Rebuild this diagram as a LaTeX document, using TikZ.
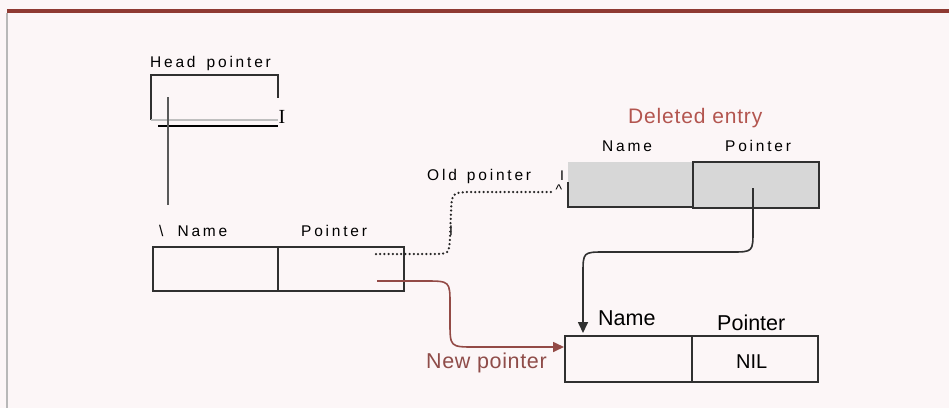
\documentclass[tikz,border=0pt]{standalone}
\usepackage{fontspec}
\setmainfont{Liberation Sans}
\newfontfamily\spaced[LetterSpace=18]{Liberation Sans}
\newfontfamily\serifI{Liberation Serif}
\usetikzlibrary{arrows.meta}
\definecolor{bgpink}{HTML}{FCF6F7}
\definecolor{topred}{HTML}{8F3A33}
\definecolor{txtred}{HTML}{B3554F}
\definecolor{newred}{HTML}{8F4C49}
\definecolor{linered}{HTML}{934A46}
\definecolor{boxline}{HTML}{303030}
\definecolor{cellgray}{HTML}{D7D7D7}
\tikzset{
  cell/.style={draw=boxline, line width=1.8pt, anchor=north west, inner sep=0pt},
  smalllbl/.style={font=\spaced\fontsize{15.5}{17}\selectfont, inner sep=0pt, anchor=base west, text=black},
  biglbl/.style={font=\fontsize{21.5}{24}\selectfont, inner sep=0pt, anchor=base west, text=black},
  redlbl/.style={font=\fontsize{21}{24}\selectfont\addfontfeature{LetterSpace=4}, inner sep=0pt, anchor=base west, text=txtred},
  artifact/.style={font=\fontsize{14}{15}\selectfont, inner sep=0pt, anchor=base},
  dottedline/.style={line width=2.5pt, line cap=round, dash pattern=on 0pt off 4.2pt, draw=black!85},
  blackptr/.style={line width=1.6pt, draw=boxline, -{Triangle[length=11pt,width=10pt]}},
  redptr/.style={line width=1.6pt, draw=linered, -{Triangle[length=11pt,width=10pt]}}
}
\begin{document}
\begin{tikzpicture}[x=1pt,y=-1pt]
  % background and frame
  \fill[bgpink] (0,0) rectangle (949,408);
  \useasboundingbox (0,0) rectangle (949,408);
  \fill[topred] (7,9) rectangle (949,13);
  \draw[line width=1.5pt, draw=black!28] (7,13) -- (7,408);

  % head pointer
  \node[smalllbl] (headlbl) at (150,67) {Head\hspace{4pt} pointer};
  \coordinate (hbl) at (151,120);
  \coordinate (htl) at (151,75);
  \coordinate (htr) at (278,75);
  \coordinate (hr) at (278,98);
  \draw[line width=1.8pt, draw=boxline] (hbl) -- (htl) -- (htr) -- (hr);
  \draw[line width=1.2pt, draw=black!25] (151,120) -- (278,120);
  \coordinate (hb1) at (158,126);
  \coordinate (hb2) at (278,126);
  \draw[line width=2.2pt, draw=black] (hb1) -- (hb2);
  \node[font=\serifI\fontsize{20}{21}\selectfont, inner sep=0pt, anchor=base] (hI) at (282,123) {I};
  \coordinate (hv1) at (168,97);
  \coordinate (hv2) at (168,205);
  \draw[line width=1.5pt, draw=black!65] (hv1) -- (hv2);

  % first entry
  \node[smalllbl] (n1lbl) at (159,236) {\textbackslash\hspace{7pt} Name};
  \node[smalllbl] (p1lbl) at (301,236) {Pointer};
  \node[cell, minimum width=125pt, minimum height=44pt] (n1) at (152,246) {};
  \node[cell, minimum width=126pt, minimum height=44pt] (p1) at (277,246) {};

  % deleted entry
  \node[redlbl] (dellbl) at (628,123) {Deleted entry};
  \node[smalllbl] (n2lbl) at (602,151) {Name};
  \node[smalllbl] (p2lbl) at (725,151) {Pointer};
  \fill[cellgray] (568,162) rectangle (692,207);
  \node[cell, fill=cellgray, minimum width=126pt, minimum height=46pt] (p2) at (692,161) {};
  \draw[line width=1.8pt, draw=boxline] (568,182) -- (568,207) -- (692,207);
  \coordinate (n2) at (568,185);
  \node[smalllbl] (oldlbl) at (427,180) {Old\hspace{3pt} pointer};
  \node[artifact] (oI) at (562,180) {I};
  \node[artifact] (oC) at (559,194) {\textasciicircum};
  \node[artifact] (jI) at (451,235) {I};

  % new (last) entry
  \node[biglbl] (n3lbl) at (598,325) {Name};
  \node[biglbl] (p3lbl) at (717,330) {Pointer};
  \node[cell, minimum width=127pt, minimum height=46pt] (n3) at (564,335) {};
  \node[cell, minimum width=126pt, minimum height=46pt] (p3) at (691,335) {};
  \node[biglbl, font=\fontsize{20}{24}\selectfont] (nil) at (736,368) {NIL};
  \node[redlbl, text=newred, font=\fontsize{21.5}{24}\selectfont\addfontfeature{LetterSpace=3}] (newlbl) at (426,368) {New pointer};

  % old pointer (dotted)
  \coordinate (os) at (376,254);
  \coordinate (oe) at (553,192);
  \draw[dottedline] (os) -- (432,254) .. controls (449,254) .. (450,238)
        -- (451,212) .. controls (452,193) .. (468,192) -- (oe);

  % pointer of deleted entry
  \coordinate (ds) at (753,188);
  \coordinate (de) at (583,333);
  \draw[blackptr] (ds) -- (753,230) .. controls (753,252) .. (731,252)
        -- (605,252) .. controls (583,252) .. (583,274) -- (de);

  % new pointer
  \coordinate (ns) at (377,281);
  \coordinate (ne) at (564,347);
  \draw[redptr] (ns) -- (425,281) .. controls (450,281) .. (450,305)
        -- (450,322) .. controls (450,347) .. (475,347) -- (ne);
\end{tikzpicture}
\end{document}
